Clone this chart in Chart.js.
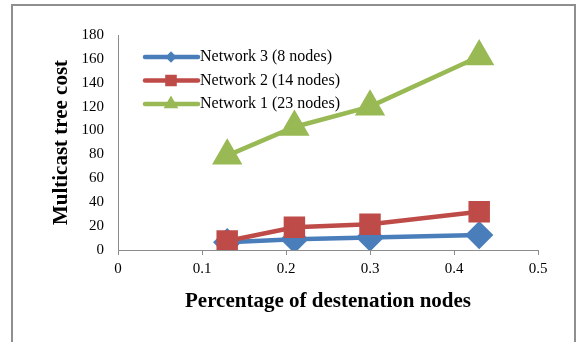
<!DOCTYPE html>
<html>
<head>
<meta charset="utf-8">
<script src="https://cdn.jsdelivr.net/npm/chart.js@4/dist/chart.umd.min.js"></script>
<style>
  html, body { margin: 0; padding: 0; background: #fff; overflow: hidden; }
  #marco { position: absolute; left: 11px; top: 4px; width: 561px; height: 400px; border: 2px solid #8f8f8f; pointer-events: none; }
  canvas { position: absolute; left: 0; top: 0; }
</style>
</head>
<body>
<canvas id="grafica" width="577" height="342"></canvas>
<div id="marco"></div>
<script>
// Datos
const porcentajes = [0.13, 0.21, 0.3, 0.43];
const red3 = [6.5, 9, 10.5, 12.5];
const red2 = [7.5, 19, 21.5, 32];
const red1 = [79, 103, 120, 162];
const nombres = ['Network 3 (8 nodes)', 'Network 2 (14 nodes)', 'Network 1 (23 nodes)'];

const fuente = "'Liberation Serif', 'Times New Roman', serif";

function puntos(valores) {
  return porcentajes.map((x, i) => ({ x: x, y: valores[i] }));
}

// Leyenda dibujada dentro del area del grafico
const leyendaInterna = {
  id: 'leyendaInterna',
  afterDatasetsDraw(chart) {
    const ctx = chart.ctx;
    const estilosLeyenda = [
      { pointStyle: 'rectRot', radius: 2.5 },
      { pointStyle: 'rect', radius: 5 },
      { pointStyle: 'triangle', radius: 4 }
    ];
    ctx.save();
    chart.data.datasets.forEach((ds, i) => {
      const y = 57 + i * 23.5;
      ctx.strokeStyle = ds.borderColor;
      ctx.lineWidth = 4.5;
      ctx.lineCap = 'round';
      ctx.beginPath();
      ctx.moveTo(145, y);
      ctx.lineTo(198, y);
      ctx.stroke();
      ctx.fillStyle = ds.backgroundColor;
      ctx.strokeStyle = ds.borderColor;
      Chart.helpers.drawPoint(ctx, {
        pointStyle: estilosLeyenda[i].pointStyle,
        radius: estilosLeyenda[i].radius,
        rotation: 0,
        borderWidth: 1
      }, 171, y);
      ctx.fillStyle = '#000';
      ctx.font = '16px ' + fuente;
      ctx.textBaseline = 'middle';
      ctx.textAlign = 'left';
      ctx.fillText(ds.label, 200, y);
    });
    ctx.restore();
  }
};

new Chart(document.getElementById('grafica'), {
  type: 'scatter',
  data: {
    datasets: [
      {
        label: nombres[0],
        data: puntos(red3),
        showLine: true,
        borderColor: '#4a7ebb',
        backgroundColor: '#4a7ebb',
        borderWidth: 4.5,
        pointStyle: 'rectRot',
        pointRadius: 11,
        pointHoverRadius: 11,
        order: 3
      },
      {
        label: nombres[1],
        data: puntos(red2),
        showLine: true,
        borderColor: '#be4b48',
        backgroundColor: '#be4b48',
        borderWidth: 4.5,
        pointStyle: 'rect',
        pointRadius: 12,
        pointHoverRadius: 12,
        order: 2
      },
      {
        label: nombres[2],
        data: puntos(red1),
        showLine: true,
        borderColor: '#98b954',
        backgroundColor: '#98b954',
        borderWidth: 4.5,
        pointStyle: 'triangle',
        pointRadius: 13,
        pointHoverRadius: 13,
        order: 1
      }
    ]
  },
  options: {
    responsive: false,
    animation: false,
    layout: { padding: { left: 40, right: 39, top: 35, bottom: 28 } },
    plugins: {
      legend: { display: false },
      tooltip: { enabled: false }
    },
    scales: {
      x: {
        type: 'linear',
        min: 0,
        max: 0.5,
        ticks: { stepSize: 0.1, color: '#000', padding: 5, font: { family: fuente, size: 15 } },
        grid: { drawOnChartArea: false, drawTicks: true, tickLength: 5, color: '#8c8c8c' },
        border: { color: '#8c8c8c', width: 1 },
        title: {
          display: true,
          text: 'Percentage of destenation nodes',
          color: '#000',
          padding: 0,
          font: { family: fuente, size: 21, weight: 'bold' }
        },
        afterFit(scale) { scale.height = 64; }
      },
      y: {
        min: 0,
        max: 180,
        ticks: { stepSize: 20, color: '#000', padding: 14, font: { family: fuente, size: 15 } },
        grid: { drawOnChartArea: false, drawTicks: false, color: '#8c8c8c' },
        border: { color: '#8c8c8c', width: 1 },
        title: {
          display: true,
          text: 'Multicast tree cost',
          color: '#000',
          padding: 9,
          font: { family: fuente, size: 21, weight: 'bold' }
        },
        afterFit(scale) { scale.width = 78; }
      }
    }
  },
  plugins: [leyendaInterna]
});
</script>
</body>
</html>
